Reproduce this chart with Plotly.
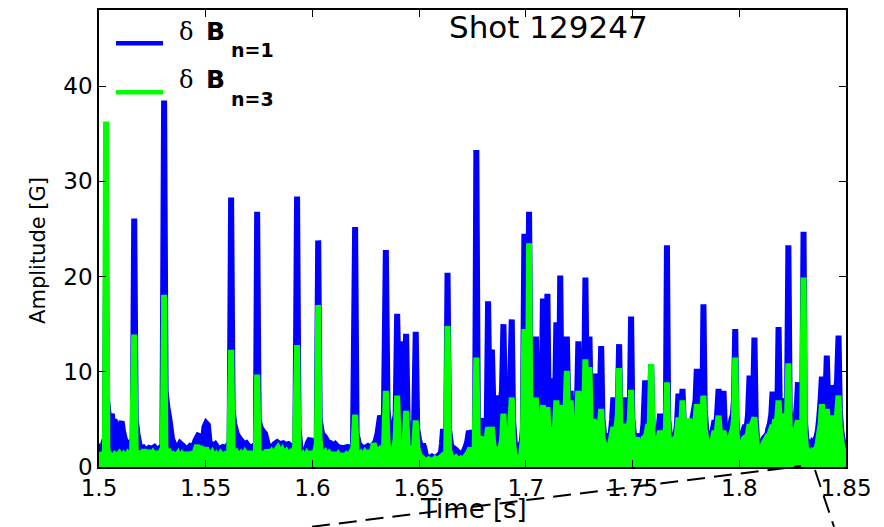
import plotly.graph_objects as go

# Magnetic perturbation amplitude, shot 129247: (time [s], amplitude [G])
n1_samples = [
    (1.5000, 1.5), (1.5008, 2.4), (1.5015, 1.8), (1.5022, 2.6), (1.5028, 3.0), (1.5033, 22.0),
    (1.5038, 7.0), (1.5045, 5.5), (1.5052, 4.8), (1.5060, 5.6), (1.5066, 4.2), (1.5072, 5.0),
    (1.5080, 4.3), (1.5088, 4.6), (1.5094, 3.5), (1.5100, 4.4), (1.5106, 4.8), (1.5112, 3.8),
    (1.5120, 3.0), (1.5128, 2.6), (1.5136, 2.3), (1.5145, 2.5), (1.5158, 2.2), (1.5165, 26.1),
    (1.5172, 5.0), (1.5180, 3.5), (1.5190, 2.3), (1.5200, 1.8), (1.5210, 2.0), (1.5222, 1.7),
    (1.5235, 2.0), (1.5248, 1.9), (1.5260, 2.1), (1.5272, 1.8), (1.5285, 2.0), (1.5297, 2.2),
    (1.5305, 38.5), (1.5312, 8.0), (1.5320, 6.3), (1.5330, 5.0), (1.5342, 3.0), (1.5355, 2.2),
    (1.5368, 2.0), (1.5380, 2.5), (1.5395, 2.2), (1.5410, 1.8), (1.5427, 2.2), (1.5440, 2.0),
    (1.5452, 2.8), (1.5464, 3.3), (1.5475, 3.2), (1.5486, 2.4), (1.5494, 4.2), (1.5502, 4.6),
    (1.5510, 4.4), (1.5518, 2.6), (1.5530, 2.2), (1.5544, 2.4), (1.5556, 2.0), (1.5567, 1.9),
    (1.5580, 2.1), (1.5595, 2.0), (1.5605, 2.3), (1.5612, 2.6), (1.5619, 28.3), (1.5626, 6.0),
    (1.5634, 4.5), (1.5645, 3.5), (1.5655, 3.1), (1.5666, 2.8), (1.5678, 2.4), (1.5690, 2.5),
    (1.5700, 2.2), (1.5712, 2.0), (1.5725, 2.2), (1.5735, 2.4), (1.5741, 26.8), (1.5748, 5.0),
    (1.5756, 4.2), (1.5766, 3.8), (1.5778, 3.5), (1.5790, 2.4), (1.5800, 2.1), (1.5811, 2.0),
    (1.5822, 2.4), (1.5835, 2.6), (1.5848, 2.4), (1.5863, 2.5), (1.5875, 2.3), (1.5888, 2.4),
    (1.5900, 2.2), (1.5912, 2.1), (1.5920, 2.3), (1.5928, 28.4), (1.5935, 4.0), (1.5944, 2.0),
    (1.5955, 1.5), (1.5966, 1.4), (1.5978, 2.5), (1.5990, 3.0), (1.6000, 2.2), (1.6012, 2.8),
    (1.6020, 2.5), (1.6027, 23.8), (1.6034, 5.0), (1.6045, 3.5), (1.6060, 3.1), (1.6072, 2.6),
    (1.6085, 2.5), (1.6097, 2.2), (1.6107, 2.4), (1.6120, 2.1), (1.6135, 2.0), (1.6150, 2.0),
    (1.6165, 2.1), (1.6178, 2.0), (1.6190, 2.2), (1.6200, 25.2), (1.6207, 3.5), (1.6218, 2.4),
    (1.6230, 2.1), (1.6245, 2.0), (1.6260, 2.2), (1.6272, 2.0), (1.6283, 2.3), (1.6295, 2.6),
    (1.6305, 3.5), (1.6317, 5.4), (1.6325, 4.8), (1.6335, 5.5), (1.6344, 22.8), (1.6352, 6.0),
    (1.6360, 4.0), (1.6370, 3.0), (1.6382, 4.5), (1.6390, 5.5), (1.6397, 16.1), (1.6404, 8.0),
    (1.6412, 4.0), (1.6420, 6.5), (1.6425, 13.2), (1.6430, 6.0), (1.6439, 14.0), (1.6446, 5.0),
    (1.6452, 3.5), (1.6460, 4.5), (1.6468, 3.2), (1.6476, 4.0), (1.6484, 14.2), (1.6491, 4.0),
    (1.6500, 2.8), (1.6510, 2.0), (1.6518, 2.4), (1.6523, 2.1), (1.6532, 1.2), (1.6545, 0.9),
    (1.6560, 1.1), (1.6575, 0.9), (1.6590, 1.2), (1.6600, 1.0), (1.6607, 2.5), (1.6612, 4.0),
    (1.6620, 3.0), (1.6627, 3.8), (1.6633, 20.4), (1.6640, 4.0), (1.6650, 2.2), (1.6660, 2.0),
    (1.6672, 1.8), (1.6685, 1.5), (1.6697, 1.4), (1.6706, 1.5), (1.6716, 2.0), (1.6725, 2.6),
    (1.6733, 3.8), (1.6740, 3.5), (1.6748, 2.5), (1.6756, 2.2), (1.6762, 2.8), (1.6768, 33.3),
    (1.6775, 4.5), (1.6782, 3.0), (1.6790, 4.8), (1.6795, 5.1), (1.6802, 3.0), (1.6810, 4.5),
    (1.6817, 5.0), (1.6823, 17.4), (1.6830, 6.0), (1.6836, 12.0), (1.6841, 12.3), (1.6847, 7.0),
    (1.6855, 5.0), (1.6862, 7.0), (1.6867, 7.5), (1.6874, 4.0), (1.6880, 6.0), (1.6888, 8.0),
    (1.6895, 15.0), (1.6902, 6.0), (1.6910, 4.0), (1.6918, 5.5), (1.6926, 8.5), (1.6934, 15.5),
    (1.6940, 5.0), (1.6948, 2.5), (1.6958, 1.6), (1.6969, 2.1), (1.6978, 1.8), (1.6986, 4.0),
    (1.6993, 24.5), (1.6999, 8.0), (1.7005, 10.0), (1.7010, 14.0), (1.7015, 26.8), (1.7021, 10.0),
    (1.7028, 7.0), (1.7035, 9.0), (1.7041, 6.0), (1.7047, 13.7), (1.7053, 6.0), (1.7060, 4.5),
    (1.7067, 7.0), (1.7073, 5.0), (1.7080, 17.7), (1.7086, 6.5), (1.7092, 5.5), (1.7101, 18.2),
    (1.7107, 6.0), (1.7114, 4.5), (1.7122, 9.3), (1.7129, 4.0), (1.7136, 5.5), (1.7143, 15.2),
    (1.7150, 6.0), (1.7156, 8.0), (1.7161, 20.1), (1.7167, 7.0), (1.7174, 5.0), (1.7180, 6.0),
    (1.7186, 6.5), (1.7192, 13.7), (1.7198, 7.0), (1.7204, 6.0), (1.7210, 8.0), (1.7216, 4.5),
    (1.7223, 6.3), (1.7230, 3.5), (1.7238, 5.0), (1.7246, 13.2), (1.7252, 6.0), (1.7258, 5.0),
    (1.7265, 7.5), (1.7272, 6.0), (1.7279, 19.9), (1.7285, 8.0), (1.7292, 6.5), (1.7298, 13.7),
    (1.7304, 6.0), (1.7310, 5.0), (1.7317, 7.0), (1.7325, 9.8), (1.7331, 5.0), (1.7338, 4.0),
    (1.7345, 6.0), (1.7353, 12.7), (1.7359, 5.0), (1.7366, 3.5), (1.7373, 3.0), (1.7380, 3.5),
    (1.7388, 2.5), (1.7396, 3.0), (1.7404, 5.0), (1.7410, 7.3), (1.7416, 4.5), (1.7424, 5.5),
    (1.7431, 6.5), (1.7437, 12.9), (1.7443, 5.0), (1.7450, 4.0), (1.7458, 5.0), (1.7465, 7.3),
    (1.7472, 4.0), (1.7480, 5.5), (1.7487, 6.0), (1.7493, 15.8), (1.7499, 5.0), (1.7506, 3.5),
    (1.7513, 3.0), (1.7520, 3.5), (1.7528, 2.5), (1.7536, 3.0), (1.7544, 3.1), (1.7551, 4.5),
    (1.7559, 9.1), (1.7566, 5.0), (1.7573, 6.0), (1.7580, 5.0), (1.7587, 10.8), (1.7594, 4.0),
    (1.7601, 3.0), (1.7608, 2.5), (1.7615, 3.5), (1.7622, 4.0), (1.7629, 5.6), (1.7636, 4.5),
    (1.7643, 3.5), (1.7650, 4.5), (1.7656, 5.0), (1.7661, 23.3), (1.7667, 5.0), (1.7674, 3.5),
    (1.7682, 3.0), (1.7692, 3.5), (1.7700, 3.0), (1.7708, 4.5), (1.7715, 7.7), (1.7721, 5.0),
    (1.7728, 6.0), (1.7734, 8.2), (1.7740, 4.5), (1.7748, 3.0), (1.7756, 3.5), (1.7765, 3.8),
    (1.7772, 4.5), (1.7780, 5.0), (1.7788, 6.0), (1.7795, 7.0), (1.7801, 10.3), (1.7808, 6.0),
    (1.7815, 5.5), (1.7822, 7.0), (1.7828, 8.0), (1.7832, 17.1), (1.7838, 6.0), (1.7845, 4.0),
    (1.7852, 3.0), (1.7858, 2.5), (1.7864, 2.1), (1.7870, 3.0), (1.7877, 4.0), (1.7884, 4.9),
    (1.7890, 4.0), (1.7896, 5.5), (1.7903, 8.2), (1.7909, 5.0), (1.7916, 4.5), (1.7922, 5.5),
    (1.7926, 8.0), (1.7932, 4.5), (1.7938, 3.0), (1.7944, 3.2), (1.7949, 3.5), (1.7956, 4.0),
    (1.7963, 5.0), (1.7970, 5.5), (1.7975, 7.0), (1.7981, 14.5), (1.7987, 5.0), (1.7993, 3.0),
    (1.7999, 2.5), (1.8004, 2.1), (1.8010, 3.0), (1.8016, 3.5), (1.8022, 4.0), (1.8028, 4.4),
    (1.8034, 4.0), (1.8041, 5.5), (1.8048, 9.6), (1.8054, 5.5), (1.8060, 6.5), (1.8065, 7.0),
    (1.8071, 13.6), (1.8077, 5.0), (1.8083, 3.0), (1.8090, 2.5), (1.8098, 2.6), (1.8106, 2.4),
    (1.8114, 3.0), (1.8122, 3.2), (1.8129, 3.1), (1.8136, 4.0), (1.8143, 4.5), (1.8150, 5.5),
    (1.8156, 7.9), (1.8162, 6.0), (1.8168, 6.5), (1.8174, 5.5), (1.8179, 7.0), (1.8184, 14.7),
    (1.8190, 6.0), (1.8196, 5.5), (1.8202, 6.5), (1.8207, 7.2), (1.8213, 6.0), (1.8219, 5.0),
    (1.8224, 7.0), (1.8230, 23.3), (1.8236, 6.0), (1.8242, 4.0), (1.8248, 3.5), (1.8254, 3.1),
    (1.8260, 4.0), (1.8266, 5.5), (1.8271, 7.0), (1.8275, 8.9), (1.8281, 5.0), (1.8288, 4.0),
    (1.8295, 6.0), (1.8301, 24.7), (1.8307, 5.0), (1.8314, 3.0), (1.8320, 2.5), (1.8324, 2.1),
    (1.8330, 2.4), (1.8337, 2.2), (1.8343, 2.6), (1.8348, 2.5), (1.8355, 2.8), (1.8362, 3.2),
    (1.8368, 3.8), (1.8374, 5.0), (1.8381, 7.0), (1.8387, 9.5), (1.8393, 6.0), (1.8399, 7.5),
    (1.8405, 8.0), (1.8410, 11.7), (1.8416, 7.0), (1.8422, 6.0), (1.8428, 7.0), (1.8434, 8.6),
    (1.8440, 5.5), (1.8446, 6.5), (1.8452, 8.0), (1.8458, 9.0), (1.8465, 13.8), (1.8471, 6.0),
    (1.8477, 4.0), (1.8483, 3.0), (1.8490, 2.3), (1.8496, 2.1), (1.8500, 2.0),
]

n3_samples = [
    (1.5000, 0.8), (1.5010, 1.5), (1.5020, 1.0), (1.5028, 1.8), (1.5033, 36.3), (1.5039, 2.0),
    (1.5046, 1.0), (1.5055, 1.2), (1.5065, 0.9), (1.5075, 1.3), (1.5085, 1.1), (1.5095, 1.4),
    (1.5105, 1.0), (1.5115, 1.3), (1.5125, 1.0), (1.5135, 1.4), (1.5145, 1.1), (1.5155, 1.5),
    (1.5165, 13.9), (1.5172, 1.6), (1.5182, 1.2), (1.5192, 1.6), (1.5202, 1.2), (1.5212, 1.8),
    (1.5222, 1.3), (1.5232, 1.7), (1.5242, 1.2), (1.5252, 1.5), (1.5262, 1.1), (1.5272, 1.6),
    (1.5282, 1.2), (1.5292, 1.7), (1.5299, 2.0), (1.5305, 18.1), (1.5311, 2.2), (1.5320, 1.3),
    (1.5330, 1.5), (1.5340, 1.0), (1.5350, 1.3), (1.5360, 1.1), (1.5370, 1.4), (1.5380, 0.9),
    (1.5390, 1.3), (1.5400, 1.0), (1.5410, 1.5), (1.5420, 1.1), (1.5430, 1.3), (1.5440, 1.0),
    (1.5450, 1.6), (1.5460, 2.3), (1.5468, 1.4), (1.5476, 2.2), (1.5484, 1.3), (1.5494, 1.7),
    (1.5502, 2.0), (1.5510, 1.4), (1.5520, 1.2), (1.5530, 1.5), (1.5540, 1.0), (1.5550, 1.3),
    (1.5560, 1.0), (1.5570, 1.4), (1.5580, 1.1), (1.5590, 1.3), (1.5600, 1.0), (1.5610, 1.5),
    (1.5619, 12.3), (1.5626, 1.8), (1.5635, 1.2), (1.5645, 1.5), (1.5655, 1.1), (1.5665, 1.4),
    (1.5675, 1.0), (1.5685, 1.5), (1.5695, 1.2), (1.5705, 1.6), (1.5715, 1.1), (1.5725, 1.4),
    (1.5735, 1.6), (1.5741, 9.7), (1.5748, 1.7), (1.5758, 1.2), (1.5768, 1.6), (1.5778, 1.1),
    (1.5788, 1.8), (1.5798, 1.3), (1.5808, 1.6), (1.5818, 1.2), (1.5828, 1.7), (1.5838, 2.0),
    (1.5848, 1.5), (1.5858, 1.8), (1.5868, 1.3), (1.5878, 1.6), (1.5888, 1.2), (1.5898, 1.5),
    (1.5908, 1.1), (1.5918, 1.4), (1.5928, 12.8), (1.5935, 1.6), (1.5945, 1.0), (1.5955, 1.3),
    (1.5965, 0.9), (1.5975, 1.4), (1.5985, 1.1), (1.5995, 1.6), (1.6005, 1.2), (1.6015, 1.8),
    (1.6021, 2.5), (1.6027, 17.0), (1.6033, 3.0), (1.6040, 1.6), (1.6050, 1.2), (1.6060, 1.5),
    (1.6070, 1.0), (1.6080, 1.4), (1.6090, 1.1), (1.6100, 1.5), (1.6110, 1.0), (1.6120, 1.3),
    (1.6130, 0.9), (1.6140, 1.4), (1.6150, 1.0), (1.6160, 1.3), (1.6170, 1.1), (1.6180, 1.5),
    (1.6190, 1.2), (1.6200, 5.5), (1.6207, 1.5), (1.6217, 1.1), (1.6227, 1.4), (1.6237, 1.0),
    (1.6247, 1.5), (1.6257, 1.2), (1.6267, 1.7), (1.6277, 1.3), (1.6287, 2.5), (1.6297, 1.6),
    (1.6307, 2.0), (1.6317, 1.4), (1.6327, 2.2), (1.6335, 1.6), (1.6344, 8.0), (1.6352, 2.5),
    (1.6360, 1.5), (1.6370, 2.0), (1.6380, 1.4), (1.6390, 3.0), (1.6397, 7.5), (1.6404, 2.5),
    (1.6412, 1.5), (1.6420, 2.8), (1.6427, 2.0), (1.6433, 3.0), (1.6439, 5.9), (1.6446, 2.0),
    (1.6455, 1.4), (1.6465, 2.2), (1.6475, 1.6), (1.6484, 4.9), (1.6492, 2.0), (1.6502, 1.2),
    (1.6512, 1.0), (1.6522, 0.8), (1.6532, 0.6), (1.6545, 0.8), (1.6560, 0.6), (1.6575, 0.9),
    (1.6590, 0.7), (1.6600, 1.0), (1.6610, 1.2), (1.6620, 1.0), (1.6627, 1.6), (1.6633, 14.8),
    (1.6640, 1.8), (1.6650, 1.1), (1.6660, 0.8), (1.6672, 1.0), (1.6685, 0.7), (1.6697, 0.9),
    (1.6710, 0.8), (1.6720, 1.2), (1.6730, 1.5), (1.6740, 2.0), (1.6750, 1.4), (1.6760, 1.8),
    (1.6768, 11.5), (1.6775, 2.5), (1.6782, 1.8), (1.6790, 3.0), (1.6795, 3.1), (1.6802, 2.0),
    (1.6810, 2.6), (1.6817, 3.0), (1.6823, 4.2), (1.6830, 2.0), (1.6836, 3.5), (1.6841, 4.2),
    (1.6847, 2.5), (1.6855, 1.5), (1.6862, 1.8), (1.6867, 2.1), (1.6874, 1.2), (1.6882, 2.0),
    (1.6889, 3.0), (1.6895, 5.6), (1.6902, 2.5), (1.6910, 1.6), (1.6918, 2.2), (1.6926, 4.0),
    (1.6934, 7.3), (1.6940, 2.5), (1.6948, 1.2), (1.6958, 0.8), (1.6969, 1.0), (1.6978, 1.2),
    (1.6986, 3.0), (1.6993, 14.5), (1.6999, 6.0), (1.7005, 8.0), (1.7010, 6.0), (1.7015, 23.5),
    (1.7021, 6.0), (1.7028, 4.0), (1.7035, 6.0), (1.7041, 3.5), (1.7047, 7.3), (1.7053, 3.5),
    (1.7060, 3.0), (1.7067, 4.5), (1.7073, 3.0), (1.7080, 6.5), (1.7086, 3.5), (1.7092, 4.0),
    (1.7101, 6.3), (1.7107, 3.0), (1.7114, 2.5), (1.7122, 4.2), (1.7129, 3.0), (1.7136, 4.0),
    (1.7143, 7.0), (1.7150, 3.5), (1.7156, 5.5), (1.7161, 6.5), (1.7167, 4.0), (1.7174, 3.5),
    (1.7180, 5.5), (1.7186, 6.0), (1.7192, 10.1), (1.7198, 5.0), (1.7204, 4.5), (1.7210, 7.0),
    (1.7216, 3.0), (1.7223, 2.8), (1.7230, 2.5), (1.7238, 4.0), (1.7246, 8.0), (1.7252, 4.5),
    (1.7258, 3.5), (1.7265, 6.0), (1.7272, 5.0), (1.7279, 11.3), (1.7285, 6.0), (1.7292, 5.0),
    (1.7298, 10.5), (1.7304, 4.0), (1.7310, 3.5), (1.7317, 5.0), (1.7325, 4.5), (1.7331, 3.0),
    (1.7338, 3.0), (1.7345, 4.0), (1.7353, 6.1), (1.7359, 3.0), (1.7366, 2.5), (1.7373, 2.0),
    (1.7380, 2.0), (1.7388, 2.2), (1.7396, 2.5), (1.7404, 3.5), (1.7410, 4.2), (1.7416, 3.0),
    (1.7424, 4.0), (1.7431, 5.5), (1.7437, 10.4), (1.7443, 4.0), (1.7450, 3.0), (1.7458, 4.0),
    (1.7465, 4.5), (1.7472, 3.0), (1.7480, 4.0), (1.7487, 5.0), (1.7493, 8.1), (1.7499, 3.5),
    (1.7506, 2.5), (1.7513, 2.5), (1.7520, 3.1), (1.7528, 2.0), (1.7536, 2.5), (1.7544, 2.4),
    (1.7551, 3.0), (1.7559, 3.1), (1.7566, 3.5), (1.7573, 4.5), (1.7580, 4.0), (1.7587, 10.8),
    (1.7594, 3.0), (1.7601, 2.5), (1.7608, 2.0), (1.7615, 3.0), (1.7622, 3.0), (1.7629, 3.8),
    (1.7636, 3.0), (1.7643, 2.5), (1.7650, 3.5), (1.7656, 4.0), (1.7661, 8.9), (1.7667, 3.5),
    (1.7674, 2.5), (1.7682, 2.5), (1.7692, 2.8), (1.7700, 2.5), (1.7708, 3.5), (1.7715, 5.2),
    (1.7721, 4.0), (1.7728, 4.5), (1.7734, 7.0), (1.7740, 3.5), (1.7748, 2.5), (1.7756, 3.0),
    (1.7765, 5.1), (1.7772, 3.5), (1.7780, 4.0), (1.7788, 4.5), (1.7795, 5.0), (1.7801, 6.6),
    (1.7808, 4.5), (1.7815, 4.0), (1.7822, 5.0), (1.7828, 6.0), (1.7832, 7.5), (1.7838, 4.0),
    (1.7845, 3.0), (1.7852, 2.0), (1.7858, 1.5), (1.7864, 1.2), (1.7870, 2.0), (1.7877, 3.0),
    (1.7884, 3.8), (1.7890, 3.0), (1.7896, 4.0), (1.7903, 5.4), (1.7909, 3.5), (1.7916, 3.0),
    (1.7922, 3.5), (1.7926, 3.8), (1.7932, 3.0), (1.7938, 2.5), (1.7944, 2.5), (1.7949, 2.8),
    (1.7956, 3.0), (1.7963, 3.5), (1.7970, 4.0), (1.7975, 5.0), (1.7981, 11.5), (1.7987, 3.5),
    (1.7993, 2.5), (1.7999, 2.0), (1.8004, 1.5), (1.8010, 2.0), (1.8016, 2.5), (1.8022, 3.0),
    (1.8028, 3.1), (1.8034, 3.0), (1.8041, 3.5), (1.8048, 4.5), (1.8054, 4.0), (1.8060, 4.5),
    (1.8065, 4.8), (1.8071, 5.2), (1.8077, 3.5), (1.8083, 2.0), (1.8090, 1.5), (1.8098, 1.6),
    (1.8106, 2.0), (1.8114, 2.5), (1.8122, 2.8), (1.8129, 3.1), (1.8136, 3.0), (1.8143, 3.5),
    (1.8150, 4.0), (1.8156, 4.4), (1.8162, 4.0), (1.8168, 5.0), (1.8174, 4.5), (1.8179, 5.5),
    (1.8184, 7.0), (1.8190, 4.5), (1.8196, 4.0), (1.8202, 5.0), (1.8207, 5.6), (1.8213, 4.5),
    (1.8219, 4.0), (1.8224, 5.5), (1.8230, 10.9), (1.8236, 4.5), (1.8242, 3.0), (1.8248, 2.5),
    (1.8254, 2.5), (1.8260, 3.0), (1.8266, 4.0), (1.8271, 4.5), (1.8275, 4.9), (1.8281, 3.5),
    (1.8288, 3.0), (1.8295, 5.0), (1.8301, 19.9), (1.8307, 3.5), (1.8314, 1.5), (1.8320, 1.0),
    (1.8324, 1.2), (1.8330, 1.5), (1.8337, 1.3), (1.8343, 1.6), (1.8348, 1.5), (1.8355, 1.8),
    (1.8362, 2.0), (1.8368, 2.5), (1.8374, 3.5), (1.8381, 4.5), (1.8387, 6.6), (1.8393, 4.5),
    (1.8399, 5.0), (1.8405, 5.0), (1.8410, 6.1), (1.8416, 4.5), (1.8422, 4.0), (1.8428, 4.5),
    (1.8434, 5.4), (1.8440, 4.0), (1.8446, 4.5), (1.8452, 5.0), (1.8458, 5.5), (1.8465, 7.5),
    (1.8471, 4.0), (1.8477, 3.0), (1.8483, 2.0), (1.8490, 1.7), (1.8496, 1.6), (1.8500, 1.5),
]

x_ticks = [1.5, 1.55, 1.6, 1.65, 1.7, 1.75, 1.8, 1.85]
x_tick_labels = ["1.5", "1.55", "1.6", "1.65", "1.7", "1.75", "1.8", "1.85"]
y_ticks = [0, 10, 20, 30, 40]
y_tick_labels = ["0", "10", "20", "30", "40"]

t_n1, amp_n1 = zip(*n1_samples)
t_n3, amp_n3 = zip(*n3_samples)

BLUE = "#0000ff"
GREEN = "#00ff00"

# figure geometry (pixels)
W, H = 884, 527
ML, MR, MT, MB = 99, 38, 8, 60


def fx(px):
    return (px - ML) / (W - ML - MR)


def fy(py):
    return (H - MB - py) / (H - MT - MB)


fig = go.Figure()
fig.add_trace(go.Scatter(x=t_n1, y=amp_n1, mode="lines", fill="tozeroy",
                         fillcolor=BLUE, line=dict(color=BLUE, width=6, simplify=False),
                         showlegend=False, name="n=1"))
fig.add_trace(go.Scatter(x=t_n3, y=amp_n3, mode="lines", fill="tozeroy",
                         fillcolor=GREEN, line=dict(color=GREEN, width=6, simplify=False),
                         showlegend=False, name="n=3"))

axis_common = dict(showline=True, linecolor="black", linewidth=1.5, mirror="ticks",
                   ticks="inside", ticklen=7, tickwidth=1, tickcolor="black",
                   showgrid=False, zeroline=False,
                   tickfont=dict(family="DejaVu Sans", size=23, color="black"))

fig.update_xaxes(range=[1.5, 1.85], tickvals=x_ticks, ticktext=x_tick_labels, **axis_common)
fig.update_yaxes(range=[0, 48], tickvals=y_ticks, ticktext=y_tick_labels, **axis_common)

annotations = [
    dict(text="Shot 129247", x=fx(447), y=fy(24.6), xanchor="left", yanchor="middle",
         font=dict(family="DejaVu Sans", size=31, color="black")),
    dict(text="Time [s]", x=fx(473), y=fy(509), xanchor="center", yanchor="middle",
         font=dict(family="DejaVu Sans", size=26, color="black")),
    dict(text="Amplitude [G]", x=fx(38), y=fy(250), xanchor="center", yanchor="middle",
         textangle=-90, font=dict(family="DejaVu Sans", size=21, color="black")),
]

# legend entries
legend_rows = [
    (BLUE, 41.5, "n=1", 29.7, 48.5),
    (GREEN, 90.7, "n=3", 78.2, 97.5),
]
shapes = []
for color, ly, sub, ty, sy in legend_rows:
    shapes.append(dict(type="line", xref="paper", yref="paper",
                       x0=fx(116), x1=fx(163), y0=fy(ly), y1=fy(ly),
                       line=dict(color=color, width=4.5)))
    annotations.append(dict(text="δ", x=fx(177), y=fy(ty), xanchor="left", yanchor="middle",
                            font=dict(family="DejaVu Serif", size=24, color="black")))
    annotations.append(dict(text="<b>B</b>", x=fx(204), y=fy(ty - 0.5), xanchor="left",
                            yanchor="middle",
                            font=dict(family="DejaVu Sans", size=25, color="black")))
    annotations.append(dict(text="<b>" + sub + "</b>", x=fx(229), y=fy(sy), xanchor="left",
                            yanchor="middle",
                            font=dict(family="DejaVu Sans", size=19, color="black")))

# dashed zoom connectors below the axis
for (x0, y0, x1, y1) in [(312, 527, 801, 466), (815, 470, 834, 527)]:
    shapes.append(dict(type="line", xref="paper", yref="paper",
                       x0=fx(x0), y0=fy(y0), x1=fx(x1), y1=fy(y1),
                       line=dict(color="black", width=2, dash="18px,9px")))

for a in annotations:
    a.update(xref="paper", yref="paper", showarrow=False)

fig.update_layout(width=W, height=H, margin=dict(l=ML, r=MR, t=MT, b=MB),
                  paper_bgcolor="white", plot_bgcolor="white",
                  annotations=annotations, shapes=shapes)

fig.write_html("out.html")
